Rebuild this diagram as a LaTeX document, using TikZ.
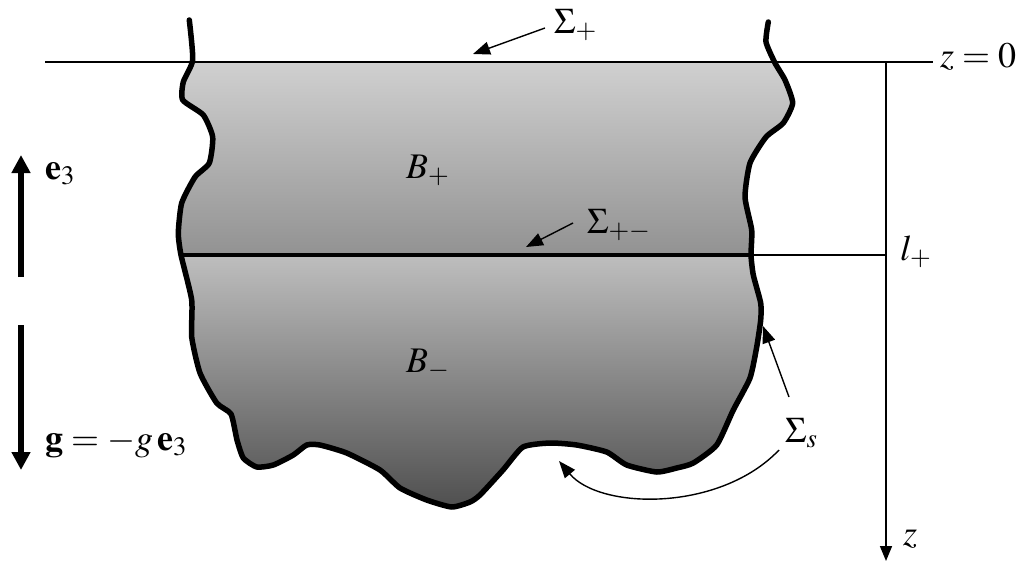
\documentclass[tikz,border=0pt]{standalone}
\usepackage{mathptmx}
\usetikzlibrary{arrows.meta}
\begin{document}
\begin{tikzpicture}[x=1pt,y=-1pt,
  lbl/.style={anchor=base west,inner sep=0pt,font=\fontsize{36}{40}\selectfont},
  thinline/.style={line width=1.6pt},
  ptr/.style={line width=1.4pt,-{Triangle[length=17pt,width=13pt]}},
  bigarrow/.style={line width=6pt,-{Triangle[length=18pt,width=18pt]}}]
\useasboundingbox (0,0) rectangle (1023,563);
\def\bnd{(189.3,20) (192.7,60) (183.3,82) (182.7,100) (203.3,115) (212.7,137) (209.3,163) (195,177) (181.7,203) (178.3,233) (181,255) (191.7,300) (191.7,337) (200,373) (216.7,403) (231,414) (237,440) (243.3,458) (256.7,467) (273.3,465) (293.3,455) (306.7,445) (320,445) (346.7,453) (380,470) (400,488) (426.7,500) (451.7,507) (470,502) (480,495) (503,470) (523,447) (550,443) (576.7,445) (606.7,452) (626.7,465) (656.7,472) (676.7,468) (693.3,463) (716.7,445) (733.3,410) (750,378) (756.7,347) (760.7,320) (760.7,303) (753.3,275) (751,255) (751.7,230) (745,197) (750,163) (766,137) (783.3,123) (792.7,103) (785,80) (775,63) (766,42) (768.3,22)}
% fill
\begin{scope}
  \clip (0,62) rectangle (1023,563);
  \clip plot[smooth,tension=0.35] coordinates {\bnd} -- cycle;
  \shade[top color={rgb,255:red,208;green,208;blue,208},bottom color={rgb,255:red,146;green,146;blue,146}] (0,62) rectangle (1023,255);
  \shade[top color={rgb,255:red,190;green,190;blue,190},bottom color={rgb,255:red,78;green,78;blue,78}] (0,255) rectangle (1023,510);
\end{scope}
% coordinates
\coordinate (zl) at (45,62);
\coordinate (zr) at (933,62);
\coordinate (ax0) at (886,62);
\coordinate (ax1) at (886,561);
\coordinate (ifl) at (181,255);
\coordinate (ifr) at (751,255);
\coordinate (lp) at (886,255);
% thin lines
\draw[thinline] (zl) -- (zr);
\draw[thinline] (ifr) -- (lp);
\draw[thinline,-{Triangle[length=15pt,width=12pt]}] (ax0) -- (ax1);
% interface
\draw[line width=3.5pt] (ifl) -- (ifr);
% boundary
\draw[line width=5.5pt,line join=round,line cap=round] plot[smooth,tension=0.35] coordinates {\bnd};
% labels
\node[lbl] (zeq) at (940,67) {$z=0$};
\node[lbl] (sp) at (554,33) {$\Sigma_+$};
\node[lbl] (spm) at (587,233) {$\Sigma_{+-}$};
\node[lbl] (bp) at (406,178) {$B_+$};
\node[lbl] (bm) at (406,372) {$B_-$};
\node[lbl] (lplus) at (900,260) {$l_+$};
\node[lbl] (ss) at (785,442) {$\Sigma_s$};
\node[lbl] (zlab) at (903,545) {$z$};
\node[lbl] (e3) at (45,179) {$\mathbf{e}_3$};
\node[lbl] (gl) at (45,450) {$\mathbf{g}=-g\,\mathbf{e}_3$};
% pointer arrows
\coordinate (spa) at (545,28);
\coordinate (spt) at (473,54);
\draw[ptr] (spa) -- (spt);
\coordinate (spma) at (573,223);
\coordinate (spmt) at (526,247);
\draw[ptr] (spma) -- (spmt);
\coordinate (ssa) at (789,397);
\coordinate (sst) at (763,326);
\draw[ptr] (ssa) -- (sst);
\coordinate (ssb) at (779,450);
\coordinate (ssc) at (559,461);
\draw[ptr] (ssb) .. controls (720,512) and (600,510) .. (ssc);
% big arrows
\coordinate (e3a) at (21,277);
\coordinate (e3t) at (21,155);
\draw[bigarrow] (e3a) -- (e3t);
\coordinate (ga) at (21,325);
\coordinate (gt) at (21,470);
\draw[bigarrow] (ga) -- (gt);
\end{tikzpicture}
\end{document}
